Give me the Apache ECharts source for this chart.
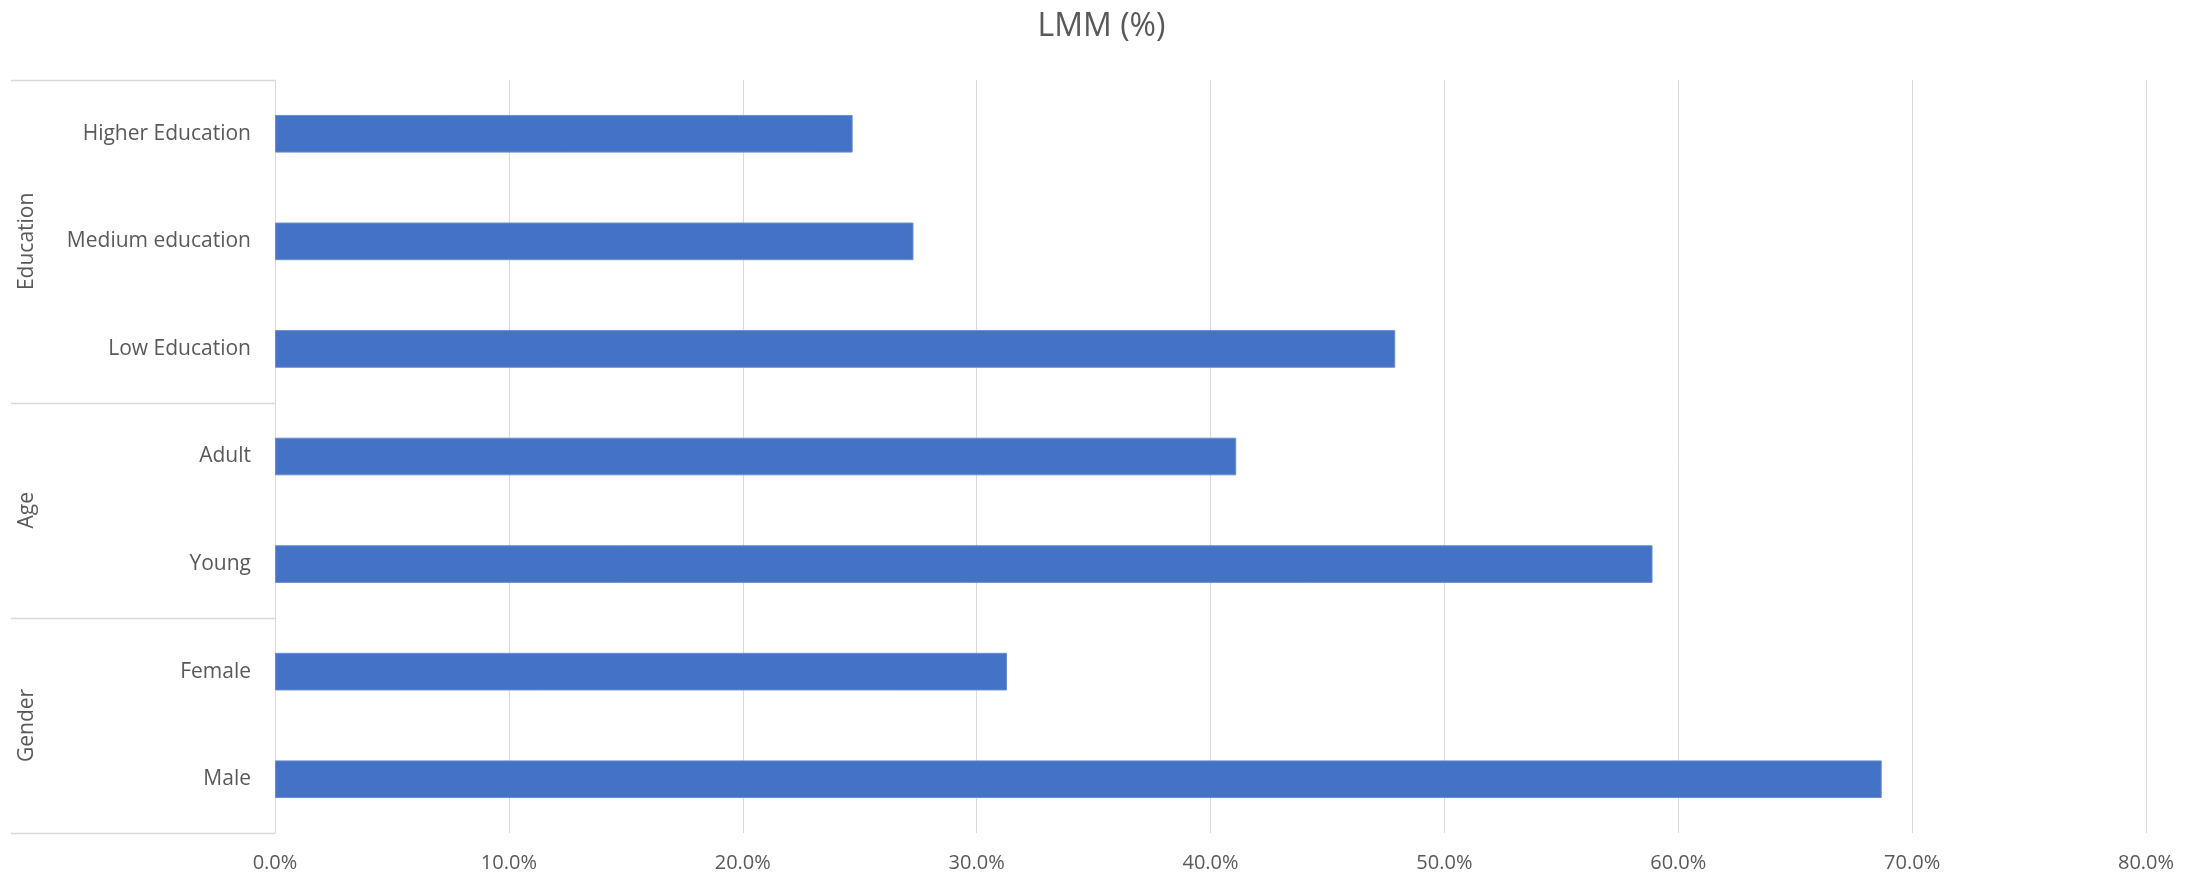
<!DOCTYPE html>
<html>
<head>
<meta charset="utf-8">
<title>LMM (%)</title>
<script src="https://cdn.jsdelivr.net/npm/echarts@6/dist/echarts.min.js"></script>
<style>
  html, body { margin: 0; padding: 0; background: #ffffff; }
  #chart { width: 2203px; height: 875px; }
</style>
</head>
<body>
<div id="chart"></div>
<script>
// Categories listed top to bottom
const categories = ['Higher Education', 'Medium education', 'Low Education', 'Adult', 'Young', 'Female', 'Male'];
// LMM share for each category (fraction)
const values = [0.247, 0.273, 0.479, 0.411, 0.589, 0.313, 0.687];
// Outer category groups: name and number of inner categories
const groupNames = ['Education', 'Age', 'Gender'];
const groupSizes = [3, 2, 2];
// Value axis ticks
const xTicks = [0, 0.1, 0.2, 0.3, 0.4, 0.5, 0.6, 0.7, 0.8];

const TEXT = '#595959';
const LINE = '#D9D9D9';
const FONT = '"Open Sans", sans-serif';

const chart = echarts.init(document.getElementById('chart'), null, { renderer: 'canvas' });

const option = {
  animation: false,
  backgroundColor: '#ffffff',
  title: {
    text: 'LMM (%)',
    left: 'center',
    top: 6,
    textStyle: { color: TEXT, fontFamily: FONT, fontSize: 32, fontWeight: 'normal' }
  },
  grid: { left: 275, right: 57, top: 80, bottom: 42, containLabel: false },
  xAxis: {
    type: 'value',
    min: xTicks[0],
    max: xTicks[xTicks.length - 1],
    interval: xTicks[1] - xTicks[0],
    axisLine: { show: false },
    axisTick: { show: false },
    splitLine: { show: true, lineStyle: { color: LINE, width: 1 } },
    axisLabel: {
      margin: 20,
      color: TEXT,
      fontFamily: FONT,
      fontSize: 20,
      formatter: v => (v * 100).toFixed(1) + '%'
    }
  },
  yAxis: {
    type: 'category',
    inverse: true,
    data: categories,
    axisLine: { show: true, lineStyle: { color: LINE, width: 1 } },
    axisTick: { show: false },
    splitLine: { show: false },
    axisLabel: { margin: 24, color: TEXT, fontFamily: FONT, fontSize: 21 }
  },
  series: [{
    type: 'bar',
    data: values,
    barWidth: '35%',
    itemStyle: { color: '#4472C4', borderColor: '#6A8ED0', borderWidth: 1 },
    silent: true
  }]
};

chart.setOption(option);

// Group separators and rotated group names on the left of the category axis
function drawGroups() {
  const elements = [];
  const leftX = 11;
  const axisX = chart.convertToPixel({ gridIndex: 0 }, [0, 0])[0];
  const band = (chart.convertToPixel({ yAxisIndex: 0 }, 1) - chart.convertToPixel({ yAxisIndex: 0 }, 0));
  const firstCenter = chart.convertToPixel({ yAxisIndex: 0 }, 0);
  const edge = i => firstCenter + (i - 0.5) * band;

  let start = 0;
  const boundaries = [0];
  groupSizes.forEach(n => { start += n; boundaries.push(start); });

  boundaries.forEach(b => {
    const y = Math.round(edge(b)) + 0.5;
    elements.push({
      type: 'line',
      shape: { x1: leftX, y1: y, x2: axisX, y2: y },
      style: { stroke: LINE, lineWidth: 1.5 },
      silent: true
    });
  });

  groupNames.forEach((name, i) => {
    const yMid = (edge(boundaries[i]) + edge(boundaries[i + 1])) / 2;
    elements.push({
      type: 'text',
      x: 27,
      y: yMid,
      rotation: Math.PI / 2,
      style: {
        text: name,
        fill: TEXT,
        font: '21px ' + FONT,
        align: 'center',
        verticalAlign: 'middle'
      },
      silent: true
    });
  });

  chart.setOption({ graphic: elements });
}

drawGroups();
</script>
</body>
</html>
